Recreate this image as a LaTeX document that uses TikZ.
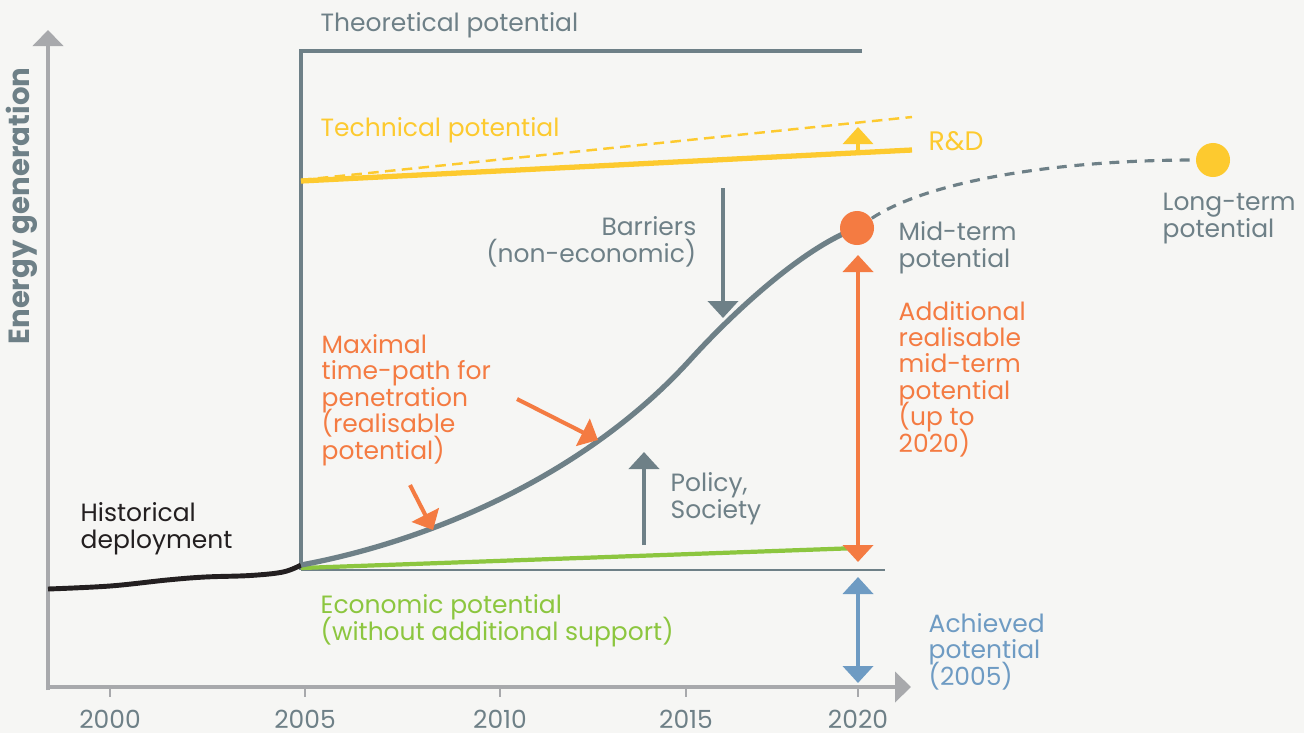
\documentclass[tikz,border=0pt]{standalone}
\usepackage{fontspec}
\setmainfont{Poppins}
\usetikzlibrary{arrows.meta,positioning,calc}

\definecolor{slate}{RGB}{110,128,135}
\definecolor{axisgray}{RGB}{168,169,172}
\definecolor{sun}{RGB}{253,202,47}
\definecolor{tang}{RGB}{244,123,66}
\definecolor{leaf}{RGB}{140,198,63}
\definecolor{sky}{RGB}{110,155,195}
\definecolor{ink}{RGB}{35,31,32}
\definecolor{paper}{RGB}{246,246,244}

\newcommand{\lblfont}{\fontsize{7.1}{7.5}\selectfont\lineskiplimit=-20pt\relax}

\tikzset{
  lbl/.style={font=\lblfont, align=left, inner sep=0pt, anchor=base west},
  axis/.style={axisgray, line width=1.3pt, -{Triangle[width=0.3cm,length=0.16cm]}},
  arr/.style={line width=1.15pt, -{Triangle[width=0.3cm,length=0.17cm]}},
  dblarr/.style={line width=1.15pt, {Triangle[width=0.3cm,length=0.17cm]}-{Triangle[width=0.3cm,length=0.17cm]}},
  dot/.style={circle, inner sep=0pt, minimum size=0.34cm}
}

\begin{document}
\begin{tikzpicture}[x=0.01cm, y=-0.01cm]
  % рамка
  \fill[paper] (0,0) rectangle (1304,733);
  \useasboundingbox (0,0) rectangle (1304,733);

  % оси
  \draw[axis] (48,690) -- (48,30) coordinate (ytop);
  \draw[axis] (46,687) -- (911,687) coordinate (xend);
  \node[font=\fontsize{8.3}{9}\selectfont\bfseries, text=slate, rotate=90] (ylab) at (22,206) {Energy generation};

  % годы
  \foreach \px/\yr in {110/2000, 305/2005, 500/2010, 686/2015, 858/2020} {
    \draw[axisgray, line width=0.6pt] (\px,688) -- (\px,697);
    \node[lbl, anchor=base, text=slate] (yr\yr) at (\px,728) {\yr};
  }

  % theoretical potential
  \draw[slate, line width=0.9pt] (862,51) -- (301,51) -- (301,570);
  \draw[slate, line width=0.6pt] (301,570) -- (885,570);
  \node[lbl, text=slate] (theo) at (320,31) {Theoretical potential};

  % technical potential + R&D
  \draw[sun, line width=0.7pt, dash pattern=on 3pt off 1.8pt] (301,180) -- (912,117);
  \draw[sun, line width=1.5pt] (301,181) -- (912,150);
  \node[lbl, text=sun] (tech) at (320,136) {Technical potential};
  \coordinate (rd0) at (858,155);
  \coordinate (rd1) at (858,127);
  \draw[arr, sun, line width=0.9pt] (rd0) -- (rd1);
  \node[lbl, text=sun, font=\fontsize{7.6}{8}\selectfont] (rd) at (928,150) {R\&D};

  % economic potential (base = last line)
  \draw[leaf, line width=1.2pt] (301,568) -- (858,548);
  \node[lbl, text=leaf] (econ) at (320,640) {Economic potential\\(without additional support)};

  % historical
  \draw[ink, line width=1.4pt] plot[smooth, tension=0.6] coordinates {(48,589) (110,586) (167,580) (205,577) (250,575.5) (283,572) (301,565)};
  \node[lbl, text=ink] (hist) at (80,548) {Historical\\deployment};

  % S-curve
  \coordinate (midc) at (857,228);
  \draw[slate, line width=1.5pt] (301,565) .. controls (420,543) and (580,481) .. (690,360)
    .. controls (740,305) and (807,246) .. (midc);
  \node[dot, fill=tang] (mid) at (midc) {};
  \node[dot, fill=sun] (long) at (1213,160) {};
  \draw[slate, line width=0.9pt, dash pattern=on 2.8pt off 2.2pt] (mid) .. controls (930,180) and (1060,160) .. (long);
  \node[lbl, text=slate] (midlab) at (898,267) {Mid-term\\potential};
  \node[lbl, text=slate] (longlab) at (1162,237) {Long-term\\potential};

  % barriers / policy
  \coordinate (bar0) at (723,188);
  \coordinate (bar1) at (723,318);
  \draw[arr, slate] (bar0) -- (bar1);
  \node[lbl, text=slate, align=right, anchor=base east] (barlab) at (697,262) {Barriers\\(non-economic)};
  \coordinate (pol0) at (644,545);
  \coordinate (pol1) at (644,452);
  \draw[arr, slate] (pol0) -- (pol1);
  \node[lbl, text=slate] (pollab) at (670,518) {Policy,\\Society};

  % realisable potential
  \node[lbl, text=tang] (maxlab) at (321,459) {Maximal\\time-path for\\penetration\\(realisable\\potential)};
  \coordinate (m0) at (517,399);
  \coordinate (m1) at (598,440);
  \draw[arr, tang] (m0) -- (m1);
  \coordinate (n0) at (410,485);
  \coordinate (n1) at (433,530);
  \draw[arr, tang] (n0) -- (n1);

  % additional + achieved
  \coordinate (add0) at (858,255);
  \coordinate (add1) at (858,562);
  \draw[dblarr, tang] (add0) -- (add1);
  \node[lbl, text=tang] (addlab) at (898,452) {Additional\\realisable\\mid-term\\potential\\(up to\\2020)};
  \coordinate (ach0) at (858,577);
  \coordinate (ach1) at (858,683);
  \draw[dblarr, sky] (ach0) -- (ach1);
  \node[lbl, text=sky] (achlab) at (928,685) {Achieved\\potential\\(2005)};
\end{tikzpicture}
\end{document}
